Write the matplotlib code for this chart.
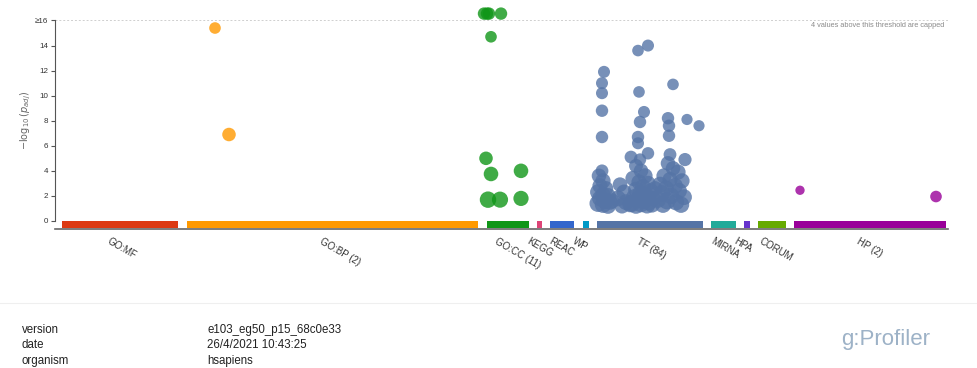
import matplotlib
matplotlib.use("Agg")
import matplotlib.pyplot as plt
from matplotlib.lines import Line2D

plt.rcParams['font.family'] = ['Liberation Sans', 'DejaVu Sans']

# Data sources: name, label, colour, start and end of the source band on the term axis
sources = ["GO:MF", "GO:BP", "GO:CC", "KEGG", "REAC", "WP", "TF", "MIRNA", "HPA", "CORUM", "HP"]
source_labels = ["GO:MF", "GO:BP (2)", "GO:CC (11)", "KEGG", "REAC", "WP", "TF (84)",
                 "MIRNA", "HPA", "CORUM", "HP (2)"]
source_colors = ["#dc3912", "#ff9900", "#109618", "#dd4477", "#3366cc", "#0099c6",
                 "#5574a6", "#22aa99", "#6633cc", "#66aa00", "#990099"]
band_start = [7, 132, 432, 482, 495, 528, 542, 656, 689, 703, 739]
band_end = [123, 423, 474, 487, 519, 534, 648, 681, 695, 731, 891]

CAP = 16.0
CAPPED_Y = 16.55

# Significant terms per source: position on term axis, -log10(p_adj), term size marker
gobp_pos = [160, 174]
gobp_val = [15.4, 6.9]
gobp_size = [70, 95]

gocc_pos = [429, 432, 434, 446, 436, 431, 436, 433, 445, 466, 466]
gocc_val = [17.5, 17.8, 17.2, 17.6, 14.7, 5.0, 3.75, 1.7, 1.7, 4.0, 1.8]
gocc_size = [80, 80, 80, 80, 70, 95, 110, 140, 135, 110, 120]

tf_pos = [549, 547, 547, 547, 547, 547,
          583, 593, 584, 589, 585, 583, 583, 576, 593, 585,
          618, 613, 614, 614, 632, 644, 615, 630,
          544, 548, 545, 551, 543, 548, 553, 545, 550, 555, 543, 548, 553, 557,
          565, 569, 563, 571, 575, 567,
          581, 586, 590, 578, 584, 593, 588, 581, 596, 585, 591, 579, 598, 583, 589, 594,
          577, 586, 581, 592, 597, 600,
          613, 618, 623, 609, 615, 627, 605, 620, 611, 624, 607, 616, 629, 603, 612, 621,
          626, 608]
tf_val = [11.9, 11.0, 10.2, 8.8, 6.7, 4.0,
          13.6, 14.0, 10.3, 8.7, 7.9, 6.7, 6.2, 5.1, 5.4, 4.9,
          10.9, 8.2, 7.6, 6.8, 8.1, 7.6, 5.3, 4.9,
          3.6, 3.2, 2.8, 2.6, 2.3, 2.1, 2.0, 1.8, 1.6, 1.5, 1.4, 1.3, 1.2, 1.6,
          2.9, 2.3, 1.8, 1.5, 1.3, 1.2,
          4.4, 4.0, 3.6, 3.4, 3.1, 3.0, 2.7, 2.5, 2.4, 2.2, 2.0, 1.9, 1.8, 1.7, 1.6, 1.5,
          1.4, 1.35, 1.25, 1.25, 1.3, 2.6,
          4.6, 4.2, 3.9, 3.6, 3.3, 3.2, 2.9, 2.8, 2.6, 2.4, 2.2, 2.0, 1.9, 1.7, 1.6, 1.5,
          1.3, 1.3]
tf_size = [75, 75, 75, 80, 80, 85,
           70, 75, 70, 75, 80, 80, 75, 85, 80, 80,
           70, 80, 80, 80, 65, 65, 85, 90,
           110, 120, 120, 110, 130, 120, 130, 130, 140, 120, 150, 140, 130, 120,
           110, 120, 130, 130, 120, 120,
           100, 110, 120, 120, 120, 120, 130, 130, 120, 130, 140, 130, 120, 140, 140, 140,
           150, 140, 150, 140, 130, 110,
           110, 110, 120, 120, 120, 120, 130, 130, 130, 130, 140, 140, 130, 140, 150, 140,
           140, 140]

hp_pos = [745, 881]
hp_val = [2.45, 1.95]
hp_size = [45, 70]

points = {
    "GO:BP": (gobp_pos, gobp_val, gobp_size),
    "GO:CC": (gocc_pos, gocc_val, gocc_size),
    "TF": (tf_pos, tf_val, tf_size),
    "HP": (hp_pos, hp_val, hp_size),
}

fig = plt.figure(figsize=(9.77, 3.68), dpi=100)
ax = fig.add_axes([55 / 977, 1 - 229.1 / 368, 893 / 977, 218 / 368])
ax.set_xlim(0, 893)
ax.set_ylim(-0.65, 16.75)

# Source bands along the bottom
for start, end, col in zip(band_start, band_end, source_colors):
    ax.bar(start, 0.58, width=end - start, bottom=-0.6, align='edge', color=col,
           linewidth=0, zorder=2)

# Term points, values above the cap are drawn on the cap row
for name, (pos, val, size) in points.items():
    col = source_colors[sources.index(name)]
    shown = [CAPPED_Y if v > CAP else v for v in val]
    ax.scatter(pos, shown, s=size, color=col, alpha=0.8, linewidths=0, zorder=3,
               clip_on=False)

# Threshold line
ax.axhline(CAP, color="#cfcfcf", lw=0.7, ls=(0, (2, 2)), zorder=1)
ax.text(889, 15.6, "4 values above this threshold are capped", ha='right', va='center',
        fontsize=5.3, color="#8a8a8a")

# Axes styling
for side in ("top", "right"):
    ax.spines[side].set_visible(False)
ax.spines['left'].set_bounds(0, 16)
ax.spines['left'].set_color("#555555")
ax.spines['left'].set_linewidth(0.8)
ax.spines['bottom'].set_color("#666666")
ax.spines['bottom'].set_linewidth(1.2)
ax.set_yticks(range(0, 17, 2))
ax.set_yticklabels([str(v) for v in range(0, 16, 2)] + ["\u226516"])
ax.tick_params(axis='y', labelsize=5.8, length=3, width=0.8, color="#555555",
               labelcolor="#333333", pad=2)
ax.set_xticks([])
ax.set_ylabel(r"$-\log_{10}(p_{adj})$", fontsize=7, color="#666666", labelpad=1)

# Source labels under the bands
for start, end, lab in zip(band_start, band_end, source_labels):
    ax.annotate(lab, xy=((start + end) / 2, 0), xycoords=('data', 'axes fraction'),
                xytext=(-7, -5), textcoords='offset points', rotation=-30,
                rotation_mode='anchor', ha='left', va='top', fontsize=7,
                color="#333333")

# Footer
fig.add_artist(Line2D([0.0, 1.0], [1 - 303 / 368] * 2, color="#efefef", lw=0.8))
meta_keys = ["version", "date", "organism"]
meta_vals = ["e103_eg50_p15_68c0e33", "26/4/2021 10:43:25", "hsapiens"]
for i, (k, v) in enumerate(zip(meta_keys, meta_vals)):
    y = 1 - (330 + 15.5 * i) / 368
    fig.text(22 / 977, y, k, fontsize=8.3, color="#222222", va='center')
    fig.text(207 / 977, y, v, fontsize=8.3, color="#222222", va='center')
fig.text(886 / 977, 1 - 340 / 368, "g:Profiler", fontsize=16, color="#9db2c7",
         ha='center', va='center')

fig.savefig("out.png", dpi=100, facecolor="white")
